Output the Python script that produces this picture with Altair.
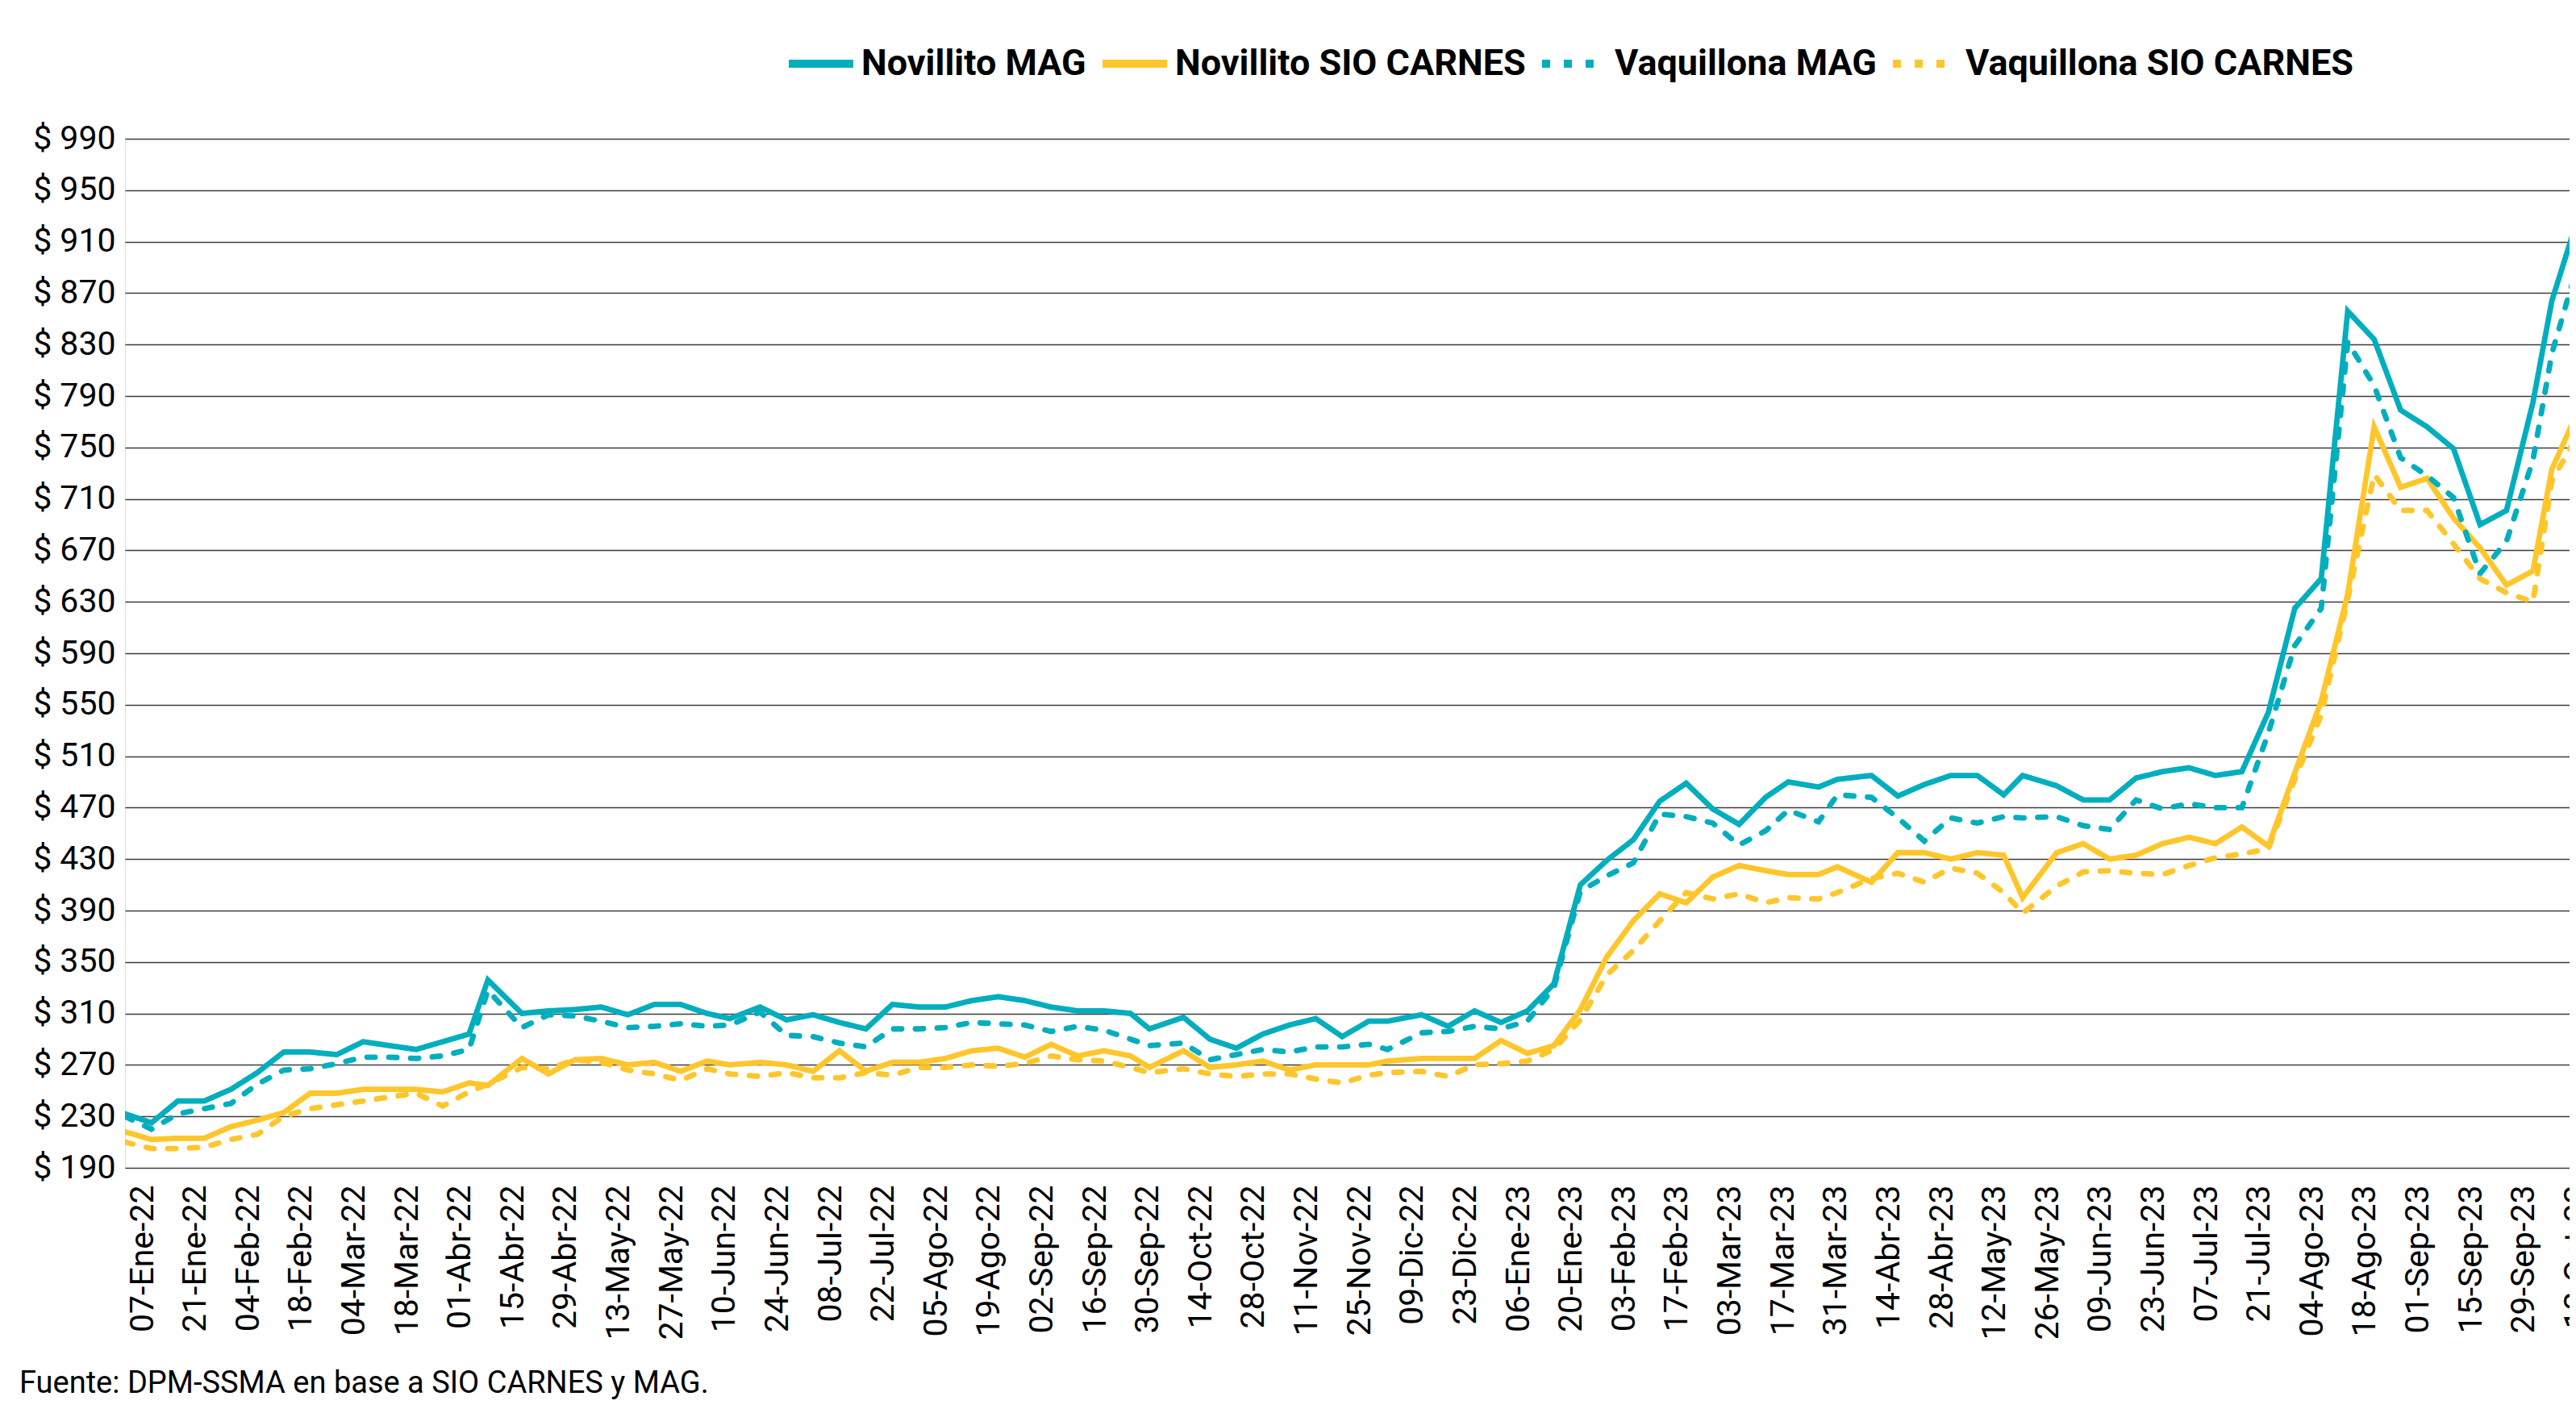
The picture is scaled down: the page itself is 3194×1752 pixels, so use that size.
import altair as alt
import pandas as pd

# ---------------- data ----------------
FECHAS = [
    "2022-01-07", "2022-01-14", "2022-01-21", "2022-01-28", "2022-02-04", "2022-02-11",
    "2022-02-18", "2022-02-25", "2022-03-04", "2022-03-11", "2022-03-18", "2022-03-25",
    "2022-04-01", "2022-04-08", "2022-04-13", "2022-04-22", "2022-04-29", "2022-05-06",
    "2022-05-13", "2022-05-20", "2022-05-27", "2022-06-03", "2022-06-10", "2022-06-16",
    "2022-06-24", "2022-07-01", "2022-07-08", "2022-07-15", "2022-07-22", "2022-07-29",
    "2022-08-05", "2022-08-12", "2022-08-19", "2022-08-26", "2022-09-02", "2022-09-09",
    "2022-09-16", "2022-09-23", "2022-09-30", "2022-10-05", "2022-10-14", "2022-10-21",
    "2022-10-28", "2022-11-04", "2022-11-11", "2022-11-18", "2022-11-25", "2022-12-02",
    "2022-12-07", "2022-12-16", "2022-12-23", "2022-12-30", "2023-01-06", "2023-01-13",
    "2023-01-20", "2023-01-27", "2023-02-03", "2023-02-10", "2023-02-17", "2023-02-24",
    "2023-03-03", "2023-03-10", "2023-03-17", "2023-03-23", "2023-03-31", "2023-04-05",
    "2023-04-14", "2023-04-21", "2023-04-28", "2023-05-05", "2023-05-12", "2023-05-19",
    "2023-05-24", "2023-06-02", "2023-06-09", "2023-06-16", "2023-06-23", "2023-06-30",
    "2023-07-07", "2023-07-14", "2023-07-21", "2023-07-28", "2023-08-04", "2023-08-11",
    "2023-08-18", "2023-08-25", "2023-09-01", "2023-09-08", "2023-09-15", "2023-09-22",
    "2023-09-29", "2023-10-06", "2023-10-11", "2023-10-20",
]

NOVILLITO_MAG = [
    232, 225, 242, 242, 251, 264, 280, 280, 278, 288, 285, 282,
    288, 294, 336, 310, 312, 313, 315, 309, 317, 317, 310, 306,
    315, 305, 309, 303, 298, 317, 315, 315, 320, 323, 320, 315,
    312, 312, 310, 298, 307, 290, 283, 294, 301, 306, 292, 304,
    304, 309, 300, 312, 303, 312, 333, 410, 429, 445, 475, 489,
    469, 457, 478, 490, 486, 492, 495, 479, 488, 495, 495, 480,
    495, 487, 476, 476, 493, 498, 501, 495, 498, 544, 625, 648,
    856, 834, 779, 766, 749, 690, 701, 785, 864, 948,
]

NOVILLITO_SIO = [
    218, 212, 213, 213, 222, 227, 233, 248, 248, 251, 251, 251,
    249, 256, 254, 275, 263, 274, 275, 270, 272, 265, 273, 270,
    272, 270, 265, 281, 265, 272, 272, 275, 281, 283, 276, 286,
    277, 281, 277, 268, 281, 268, 270, 273, 266, 270, 270, 270,
    273, 275, 275, 275, 289, 279, 285, 313, 354, 382, 403, 396,
    416, 425, 421, 418, 418, 424, 412, 435, 435, 430, 435, 433,
    400, 435, 442, 430, 433, 442, 447, 442, 455, 440, 497, 553,
    636, 766, 719, 726, 695, 672, 643, 654, 733, 792,
]

VAQUILLONA_MAG = [
    230, 220, 232, 236, 240, 255, 266, 267, 271, 276, 276, 275,
    277, 282, 328, 299, 309, 308, 304, 299, 300, 302, 300, 301,
    311, 293, 292, 287, 284, 298, 298, 299, 303, 302, 301, 296,
    300, 297, 290, 285, 287, 274, 278, 282, 280, 284, 284, 286,
    282, 295, 296, 300, 298, 304, 330, 405, 417, 427, 465, 463,
    458, 441, 452, 468, 459, 480, 478, 462, 444, 462, 458, 463,
    462, 463, 456, 453, 476, 469, 473, 470, 470, 528, 596, 625,
    832, 798, 742, 728, 711, 652, 677, 740, 823, 914,
]

VAQUILLONA_SIO = [
    210, 205, 205, 206, 212, 216, 230, 236, 239, 242, 245, 248,
    238, 249, 255, 268, 267, 274, 272, 266, 263, 258, 267, 263,
    261, 264, 260, 260, 264, 262, 268, 268, 270, 269, 271, 277,
    274, 273, 268, 264, 267, 263, 261, 263, 263, 259, 256, 262,
    264, 265, 261, 270, 271, 273, 282, 305, 340, 359, 382, 404,
    399, 403, 396, 400, 399, 404, 415, 419, 412, 423, 419, 404,
    388, 409, 420, 421, 419, 418, 425, 431, 434, 438, 492, 542,
    632, 729, 701, 701, 675, 648, 637, 630, 724, 771,
]

SERIES = ["Novillito MAG", "Novillito SIO CARNES", "Vaquillona MAG", "Vaquillona SIO CARNES"]
COLORES = ["#00AEBE", "#FFC62B", "#00AEBE", "#FFC62B"]
TRAZOS = [[1, 0], [1, 0], [10, 17], [10, 17]]

# x-axis tick dates (every two weeks) and Spanish month abbreviations
TICKS = [
    "2022-01-07", "2022-01-21", "2022-02-04", "2022-02-18", "2022-03-04", "2022-03-18",
    "2022-04-01", "2022-04-15", "2022-04-29", "2022-05-13", "2022-05-27", "2022-06-10",
    "2022-06-24", "2022-07-08", "2022-07-22", "2022-08-05", "2022-08-19", "2022-09-02",
    "2022-09-16", "2022-09-30", "2022-10-14", "2022-10-28", "2022-11-11", "2022-11-25",
    "2022-12-09", "2022-12-23", "2023-01-06", "2023-01-20", "2023-02-03", "2023-02-17",
    "2023-03-03", "2023-03-17", "2023-03-31", "2023-04-14", "2023-04-28", "2023-05-12",
    "2023-05-26", "2023-06-09", "2023-06-23", "2023-07-07", "2023-07-21", "2023-08-04",
    "2023-08-18", "2023-09-01", "2023-09-15", "2023-09-29", "2023-10-13",
]
MESES = ["Ene", "Feb", "Mar", "Abr", "May", "Jun", "Jul", "Ago", "Sep", "Oct", "Nov", "Dic"]
Y_TICKS = list(range(190, 991, 40))
FUENTE = "Fuente: DPM-SSMA en base a SIO CARNES y MAG."

# ---------------- layout ----------------
W, H = 3031, 1276
PX_PER_DAY = 4.687
PAD_L, PAD_T, PAD_R, PAD_B = 147, 164, 0, 288

def ms(s):
    return int(pd.Timestamp(s, tz="UTC").value // 10**6)

x_start = ms(FECHAS[0])
x_end = x_start + int(W / PX_PER_DAY * 86400000)

rows = []
for serie, valores in zip(SERIES, [NOVILLITO_MAG, NOVILLITO_SIO, VAQUILLONA_MAG, VAQUILLONA_SIO]):
    for f, v in zip(FECHAS, valores):
        rows.append({"fecha": f, "serie": serie, "valor": v})
df = pd.DataFrame(rows)

meses_js = "[" + ",".join("'%s'" % m for m in MESES) + "]"
x_label_expr = ("utcFormat(datum.value, '%d') + '-' + " + meses_js +
                "[utcmonth(datum.value)] + '-' + utcFormat(datum.value, '%y')")

leyenda = alt.Legend(
    orient="none", legendX=818, legendY=-138, direction="horizontal", title=None,
    labelFont="Roboto", labelFontSize=45, labelFontWeight="bold", labelColor="#000000",
    symbolType="stroke", symbolSize=6400, symbolStrokeWidth=10, labelOffset=5,
    columnPadding=0, padding=0, labelLimit=0,
)

lines = alt.Chart(df).mark_line(strokeWidth=6.8, strokeCap="round", clip=True).encode(
    x=alt.X(
        "fecha:T",
        scale=alt.Scale(type="utc", domain=[x_start, x_end], nice=False),
        axis=alt.Axis(
            values=[ms(t) for t in TICKS], labelExpr=x_label_expr, title=None,
            labelAngle=270, labelAlign="right", labelBaseline="middle",
            labelPadding=21, labelOffset=22, ticks=False, tickSize=0, domain=False,
            grid=False, labelFlush=False, labelOverlap=False, labelBound=False,
            labelLimit=0,
            labelFont="Roboto", labelFontSize=41, labelColor="#000000",
        ),
    ),
    y=alt.Y(
        "valor:Q",
        scale=alt.Scale(domain=[190, 990], nice=False, zero=False),
        axis=alt.Axis(
            values=Y_TICKS, labelExpr="'$ ' + datum.value", title=None,
            ticks=False, domain=False, grid=True, gridColor="#3c3c3c", gridWidth=1.6,
            labelPadding=12, labelFont="Roboto", labelFontSize=41, labelColor="#000000",
        ),
    ),
    color=alt.Color("serie:N", scale=alt.Scale(domain=SERIES, range=COLORES), legend=leyenda),
    strokeDash=alt.StrokeDash("serie:N", scale=alt.Scale(domain=SERIES, range=TRAZOS), legend=leyenda),
    order=alt.Order("fecha:T"),
)

fuente = alt.Chart(pd.DataFrame({"t": [FUENTE]})).mark_text(
    align="left", baseline="alphabetic", font="Roboto", fontSize=38, color="#000000",
).encode(
    x=alt.value(24 - 8 - PAD_L),
    y=alt.value(1727 - 8 - PAD_T),
    text="t:N",
)

chart = alt.layer(lines, fuente).properties(
    width=W, height=H,
    padding={"left": PAD_L, "top": PAD_T, "right": PAD_R, "bottom": PAD_B},
    autosize=alt.AutoSizeParams(type="none"),
).configure_view(stroke=None).configure(background="#ffffff")

chart.save("out.html", embed_options={"renderer": "svg", "actions": False})
